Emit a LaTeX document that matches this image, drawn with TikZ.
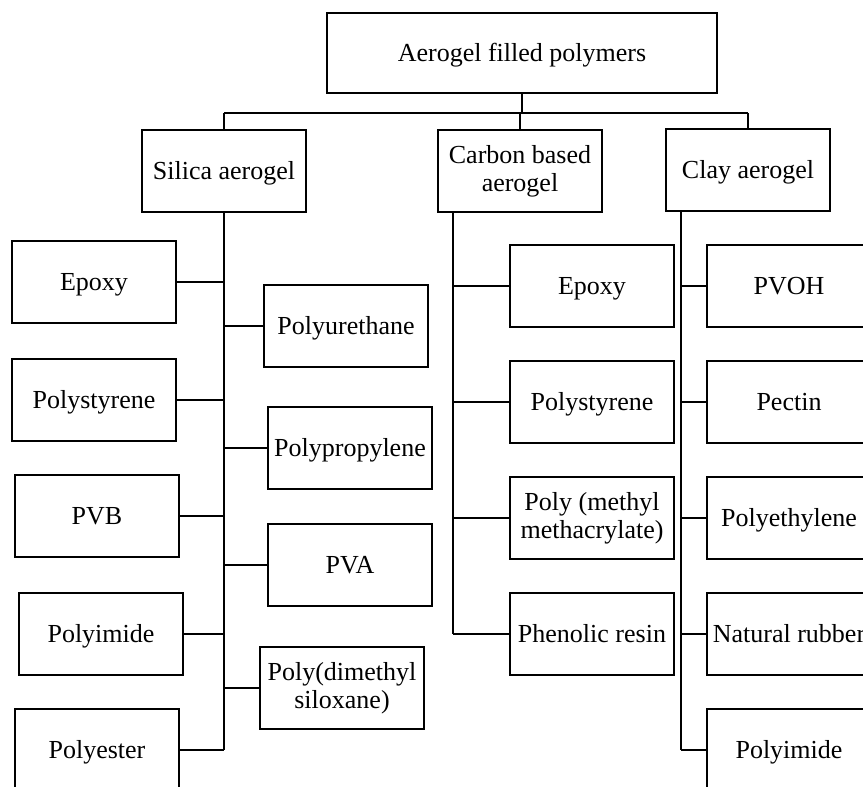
\documentclass[tikz,border=0pt]{standalone}
\usepackage{fontspec}
\setmainfont{Liberation Serif}
\begin{document}
\begin{tikzpicture}[x=1pt,y=-1pt,
  boxbase/.style={draw,line width=2pt,rectangle,inner sep=0pt,
    minimum width=164pt,minimum height=82pt,font=\fontsize{26}{28}\selectfont},
  box/.style={boxbase,align=center},
  box1/.style={boxbase,text height=17.2pt,text depth=0pt},
  trunk/.style={line width=2.2pt},
  branch/.style={line width=1.8pt}]
\useasboundingbox (0,0) rectangle (863,787);
\fill[white] (0,0) rectangle (863,787);
\clip (0,0) rectangle (863,787);

% top levels
\node[box1,minimum width=390pt,minimum height=80pt] (top) at (522,53) {Aerogel filled polymers};
\node[box1] (silica) at (224,171) {Silica aerogel};
\node[box] (carbon) at (520,171) {Carbon based\\aerogel};
\node[box1] (clay) at (748,170) {Clay aerogel};

\coordinate (busL) at (224,113);
\coordinate (busR) at (748,113);
\draw[trunk] (busL) -- (busR);
\draw[trunk] (top.south) -- (top.south |- busL);
\draw[trunk] (silica.north) -- (silica.north |- busL);
\draw[trunk] (carbon.north) -- (carbon.north |- busL);
\draw[trunk] (clay.north) -- (clay.north |- busL);

% silica children
\node[box1] (sEpoxy) at (94,282) {Epoxy};
\node[box1] (sPS) at (94,400) {Polystyrene};
\node[box1] (sPVB) at (97,516) {PVB};
\node[box1] (sPI) at (101,634) {Polyimide};
\node[box1] (sPE) at (97,750) {Polyester};
\node[box1] (sPU) at (346,326) {Polyurethane};
\node[box1] (sPP) at (350,448) {Polypropylene};
\node[box1] (sPVA) at (350,565) {PVA};
\node[box] (sPDMS) at (342,688) {Poly(dimethyl\\siloxane)};

\draw[trunk] (silica.south) -- (silica.south |- sPE.east);
\foreach \n in {sEpoxy,sPS,sPVB,sPI,sPE}
  \draw[branch] (\n.east) -- (\n.east -| silica.south);
\foreach \n in {sPU,sPP,sPVA,sPDMS}
  \draw[branch] (\n.west) -- (\n.west -| silica.south);

% carbon children
\path (carbon.south west) ++(16,0) coordinate (ctrunk);
\node[box1] (cEpoxy) at (592,286) {Epoxy};
\node[box1] (cPS) at (592,402) {Polystyrene};
\node[box] (cPMMA) at (592,518) {Poly (methyl\\methacrylate)};
\node[box1] (cPR) at (592,634) {Phenolic resin};
\draw[trunk] (ctrunk) -- (ctrunk |- cPR.west);
\foreach \n in {cEpoxy,cPS,cPMMA,cPR}
  \draw[branch] (\n.west) -- (\n.west -| ctrunk);

% clay children
\path (clay.south west) ++(16,0) coordinate (ktrunk);
\node[box1] (kPVOH) at (789,286) {PVOH};
\node[box1] (kPectin) at (789,402) {Pectin};
\node[box1] (kPEth) at (789,518) {Polyethylene};
\node[box1] (kNR) at (789,634) {Natural rubber};
\node[box1] (kPI) at (789,750) {Polyimide};
\draw[trunk] (ktrunk) -- (ktrunk |- kPI.west);
\foreach \n in {kPVOH,kPectin,kPEth,kNR,kPI}
  \draw[branch] (\n.west) -- (\n.west -| ktrunk);
\end{tikzpicture}
\end{document}
